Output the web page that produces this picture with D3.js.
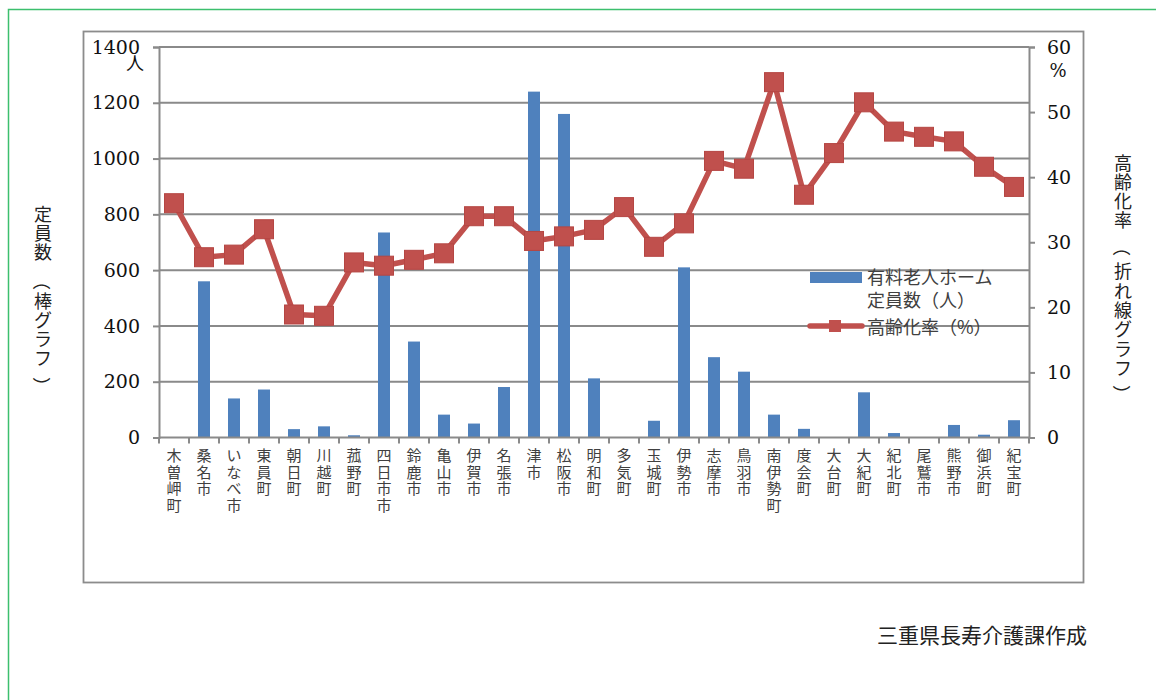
<!DOCTYPE html>
<html>
<head>
<meta charset="utf-8">
<script src="https://cdn.jsdelivr.net/npm/d3@7"></script>
<style>
  html, body { margin: 0; padding: 0; background: #fff; }
  svg { display: block; }
</style>
</head>
<body>
<svg id="chart" width="1156" height="700"></svg>
<script>
// Municipalities of Mie Prefecture (north to south)
const categories = [
  "木曽岬町", "桑名市", "いなべ市", "東員町", "朝日町", "川越町", "菰野町",
  "四日市市", "鈴鹿市", "亀山市", "伊賀市", "名張市", "津市", "松阪市",
  "明和町", "多気町", "玉城町", "伊勢市", "志摩市", "鳥羽市", "南伊勢町",
  "度会町", "大台町", "大紀町", "紀北町", "尾鷲市", "熊野市", "御浜町", "紀宝町"
];

// 有料老人ホーム 定員数（人）
const capacity = [
  0, 560, 140, 172, 30, 40, 8,
  735, 344, 82, 50, 181, 1240, 1160,
  212, 0, 60, 610, 288, 236, 82,
  31, 0, 162, 16, 0, 45, 10, 62
];

// 高齢化率（%）
const agingRate = [
  36.0, 27.7, 28.1, 32.0, 18.9, 18.7, 26.9,
  26.4, 27.3, 28.3, 34.0, 34.0, 30.2, 30.9,
  31.9, 35.4, 29.3, 32.9, 42.5, 41.3, 54.6,
  37.3, 43.7, 51.5, 47.0, 46.2, 45.5, 41.6, 38.5
];

const leftTicks = [0, 200, 400, 600, 800, 1000, 1200, 1400];
const rightTicks = [0, 10, 20, 30, 40, 50, 60];

const legendLabels = ["有料老人ホーム", "定員数（人）", "高齢化率（%）"];
const leftTitle = "定員数（棒グラフ）";
const rightTitle = "高齢化率（折れ線グラフ）";
const sourceNote = "三重県長寿介護課作成";

const barColor = "#4f81bd";
const lineColor = "#c0504d";
const axisColor = "#8a8a8a";
const textColor = "#404040";
const JP = '"Noto Sans CJK JP", "Noto Sans", sans-serif';
const NUM = '"DejaVu Serif", "Liberation Serif", serif';

const svg = d3.select("#chart");

// Page frame and chart frame
svg.append("rect")
  .attr("x", 8.5).attr("y", 9.5).attr("width", 1300).attr("height", 900)
  .attr("fill", "none").attr("stroke", "#3cbf6e").attr("stroke-width", 1.5);
svg.append("rect")
  .attr("x", 83.5).attr("y", 31.5).attr("width", 1000).attr("height", 551)
  .attr("fill", "#fff").attr("stroke", "#8c8c8c").attr("stroke-width", 1.8);

const plot = { left: 159, right: 1029, top: 47, bottom: 437.5 };

const x = d3.scaleBand()
  .domain(categories)
  .range([plot.left, plot.right])
  .paddingInner(0.6)
  .paddingOuter(0.3);
const step = x.step();
const cx = c => x(c) + x.bandwidth() / 2;

const yL = d3.scaleLinear().domain([0, 1400]).range([plot.bottom, plot.top]);
const yR = d3.scaleLinear().domain([0, 60]).range([plot.bottom, plot.top]);

// Horizontal gridlines from the left axis
svg.append("g")
  .selectAll("line")
  .data(leftTicks.filter(t => t > 0))
  .join("line")
  .attr("x1", plot.left).attr("x2", plot.right)
  .attr("y1", d => yL(d)).attr("y2", d => yL(d))
  .attr("stroke", axisColor).attr("stroke-width", 2);

// Bars
svg.append("g")
  .selectAll("rect")
  .data(categories.map((c, i) => ({ c, v: capacity[i] })))
  .join("rect")
  .attr("x", d => x(d.c))
  .attr("width", x.bandwidth())
  .attr("y", d => yL(d.v))
  .attr("height", d => plot.bottom - yL(d.v))
  .attr("fill", barColor);

function styleAxis(g) {
  g.attr("font-family", null).attr("font-size", null);
  g.select(".domain").attr("stroke", axisColor).attr("stroke-width", 2);
  g.selectAll(".tick line").attr("stroke", axisColor).attr("stroke-width", 2);
  g.selectAll(".tick text")
    .attr("fill", "#111")
    .style("font-family", NUM)
    .style("font-size", "19px");
}

// Left axis
svg.append("g")
  .attr("transform", `translate(${plot.left},0)`)
  .call(d3.axisLeft(yL).tickValues(leftTicks).tickSize(6).tickPadding(13).tickFormat(d3.format("d")))
  .call(styleAxis);

// Right axis
svg.append("g")
  .attr("transform", `translate(${plot.right},0)`)
  .call(d3.axisRight(yR).tickValues(rightTicks).tickSize(6).tickPadding(12).tickFormat(d3.format("d")))
  .call(styleAxis);

// Bottom axis: baseline with ticks at category boundaries
svg.append("line")
  .attr("x1", plot.left).attr("x2", plot.right)
  .attr("y1", plot.bottom).attr("y2", plot.bottom)
  .attr("stroke", axisColor).attr("stroke-width", 2);
svg.append("g")
  .selectAll("line")
  .data(d3.range(categories.length + 1))
  .join("line")
  .attr("x1", i => plot.left + i * step).attr("x2", i => plot.left + i * step)
  .attr("y1", plot.bottom).attr("y2", plot.bottom + 6)
  .attr("stroke", axisColor).attr("stroke-width", 2);

// Category labels, stacked one character per line
const lbl = svg.append("g")
  .selectAll("text")
  .data(categories)
  .join("text")
  .attr("text-anchor", "middle")
  .attr("fill", textColor)
  .style("font-family", JP)
  .style("font-size", "15px");
lbl.each(function (c) {
  const t = d3.select(this);
  Array.from(c).forEach((ch, k) => {
    t.append("tspan")
      .attr("x", cx(c))
      .attr("y", 461 + k * 16.6)
      .text(ch);
  });
});

// Aging-rate line with square markers
const line = d3.line()
  .x((d, i) => cx(categories[i]))
  .y(d => yR(d));
svg.append("path")
  .datum(agingRate)
  .attr("d", line)
  .attr("fill", "none")
  .attr("stroke", lineColor)
  .attr("stroke-width", 5.5)
  .attr("stroke-linejoin", "round");
const ms = 19;
svg.append("g")
  .selectAll("rect")
  .data(agingRate)
  .join("rect")
  .attr("x", (d, i) => cx(categories[i]) - ms / 2)
  .attr("y", d => yR(d) - ms / 2)
  .attr("width", ms).attr("height", ms)
  .attr("fill", lineColor)
  .attr("stroke", "#b54643").attr("stroke-width", 1);

// Units
svg.append("text")
  .attr("x", 135).attr("y", 70).attr("text-anchor", "middle")
  .attr("fill", "#111").style("font-family", JP).style("font-size", "18px").text("人");
svg.append("text")
  .attr("x", 1058).attr("y", 77).attr("text-anchor", "middle")
  .attr("fill", "#111").style("font-family", NUM).style("font-size", "18px").text("%");

// Vertical axis title: one glyph per slot, brackets turned for vertical writing
function verticalTitle(str, cxPos, ys) {
  const g = svg.append("g");
  Array.from(str).forEach((ch, k) => {
    const isBracket = ch === "（" || ch === "）";
    g.append("text")
      .attr("transform", `translate(${cxPos},${ys[k]})` + (isBracket ? " rotate(90)" : ""))
      .attr("text-anchor", "middle")
      .attr("dominant-baseline", "central")
      .attr("fill", "#222")
      .style("font-family", JP)
      .style("font-size", "18px")
      .text(ch);
  });
}
verticalTitle(leftTitle, 43, [213, 232, 251, 281, 300, 319, 338, 357, 386]);
verticalTitle(rightTitle, 1123, [162, 181, 200, 219, 247, 270, 290, 309, 328, 348, 367, 394]);

// Legend
const lg = svg.append("g");
lg.append("rect")
  .attr("x", 810).attr("y", 272).attr("width", 52).attr("height", 11)
  .attr("fill", barColor);
lg.append("line")
  .attr("x1", 810).attr("x2", 862).attr("y1", 326).attr("y2", 326)
  .attr("stroke", lineColor).attr("stroke-width", 5.5).attr("stroke-linecap", "round");
lg.append("rect")
  .attr("x", 829).attr("y", 320).attr("width", 12).attr("height", 12)
  .attr("fill", lineColor);
const legendY = [284, 307, 334];
lg.selectAll("text.lt")
  .data(legendLabels)
  .join("text")
  .attr("class", "lt")
  .attr("x", 867).attr("y", (d, i) => legendY[i])
  .attr("fill", textColor)
  .style("font-family", JP)
  .style("font-size", "18px")
  .text(d => d);

// Source note
svg.append("text")
  .attr("x", 877).attr("y", 643)
  .attr("fill", "#222")
  .style("font-family", JP)
  .style("font-size", "21px")
  .text(sourceNote);
</script>
</body>
</html>
